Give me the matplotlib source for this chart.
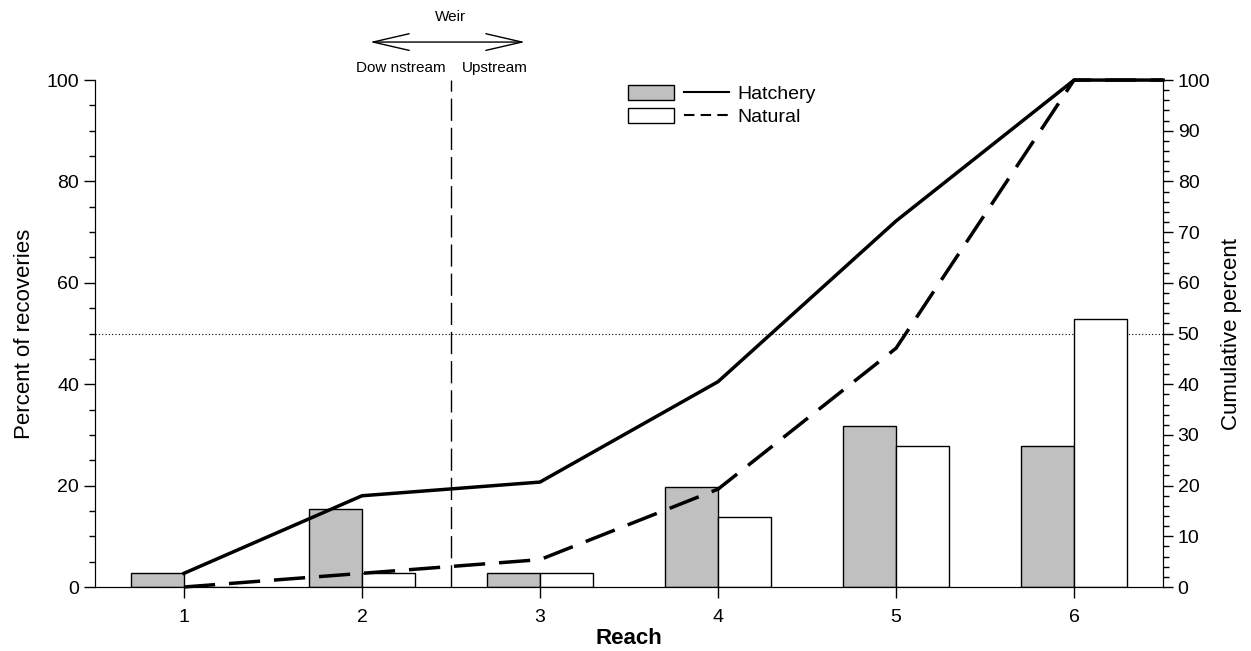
import numpy as np
import matplotlib
matplotlib.use("Agg")
import matplotlib.pyplot as plt
from matplotlib.patches import Patch
from matplotlib.lines import Line2D
from matplotlib.legend_handler import HandlerTuple

plt.rcParams['font.family'] = ['Liberation Sans', 'DejaVu Sans']

# data
reach = [1, 2, 3, 4, 5, 6]
hatchery_pct = [2.7, 15.3, 2.7, 19.8, 31.7, 27.8]
natural_pct = [0.0, 2.7, 2.7, 13.9, 27.8, 52.8]
cum_x = [1, 2, 3, 4, 5, 6, 6.5]
hatchery_cum = [2.7, 18.0, 20.7, 40.5, 72.2, 100.0, 100.0]
natural_cum = [0.0, 2.7, 5.4, 19.3, 47.1, 100.0, 100.0]

fig = plt.figure(figsize=(12.51, 6.51), dpi=100)
ax = fig.add_axes([0.0759, 0.0983, 0.8538, 0.7787])
x = np.array(reach)
w = 0.3
ax.bar(x - w / 2, hatchery_pct, w, color='#c0c0c0', edgecolor='black', linewidth=1, zorder=2)
ax.bar(x + w / 2, natural_pct, w, color='white', edgecolor='black', linewidth=1, zorder=2)

ax.set_xlim(0.5, 6.5)
ax.set_ylim(0, 100)
ax.set_xticks(reach)
ax.set_yticks(np.arange(0, 101, 20))
ax.set_yticks(np.arange(0, 101, 5), minor=True)
ax.spines['top'].set_visible(False)
ax.tick_params(axis='both', which='major', labelsize=14, length=8, width=1)
ax.tick_params(axis='x', pad=8)
ax.tick_params(axis='y', which='minor', length=4, width=1)
ax.set_ylabel('Percent of recoveries', fontsize=16, labelpad=8)
ax.set_xlabel('Reach', fontsize=16, fontweight='bold', labelpad=1)

# reference lines
ax.axhline(50, color='black', linestyle=(0, (1, 2)), linewidth=0.8, zorder=1)
ax.plot([2.5, 2.5], [0, 100], color='black', linestyle=(0, (16, 5)), linewidth=1, zorder=1)

ax2 = ax.twinx()
ax2.set_ylim(0, 100)
ax2.set_yticks(np.arange(0, 101, 10))
ax2.set_yticks(np.arange(0, 101, 2), minor=True)
ax2.spines['top'].set_visible(False)
ax2.tick_params(axis='y', which='major', labelsize=14, length=7, width=1)
ax2.tick_params(axis='y', which='minor', length=4, width=1)
ax2.set_ylabel('Cumulative percent', fontsize=16, labelpad=8)
ax2.plot(cum_x, hatchery_cum, color='black', linewidth=2.5, clip_on=False)
ax2.plot(cum_x, natural_cum, color='black', linewidth=2.5, linestyle=(0, (9, 4)), clip_on=False)

# weir annotation
ax.annotate('', xy=(2.045, 107.5), xytext=(2.916, 107.5), annotation_clip=False,
            arrowprops=dict(arrowstyle='<->,head_length=2.6,head_width=0.6', color='black', lw=1,
                            shrinkA=0, shrinkB=0))
ax.text(2.5, 112.5, 'Weir', ha='center', va='center', fontsize=11, clip_on=False)
ax.text(2.47, 102.4, 'Dow nstream', ha='right', va='center', fontsize=11, clip_on=False)
ax.text(2.56, 102.4, 'Upstream', ha='left', va='center', fontsize=11, clip_on=False)

# legend
handles = [(Patch(facecolor='#c0c0c0', edgecolor='black'), Line2D([], [], color='black', lw=1.5)),
           (Patch(facecolor='white', edgecolor='black'), Line2D([], [], color='black', lw=1.5, linestyle=(0, (5, 3))))]
leg = ax.legend(handles, ['Hatchery', 'Natural'], loc='upper left', bbox_to_anchor=(0.483, 1.025),
                frameon=False, fontsize=14, handler_map={tuple: HandlerTuple(ndivide=None, pad=0.5)},
                handlelength=5.2, handleheight=0.8, labelspacing=0.25, handletextpad=0.4)

fig.savefig('out.png', dpi=100)
